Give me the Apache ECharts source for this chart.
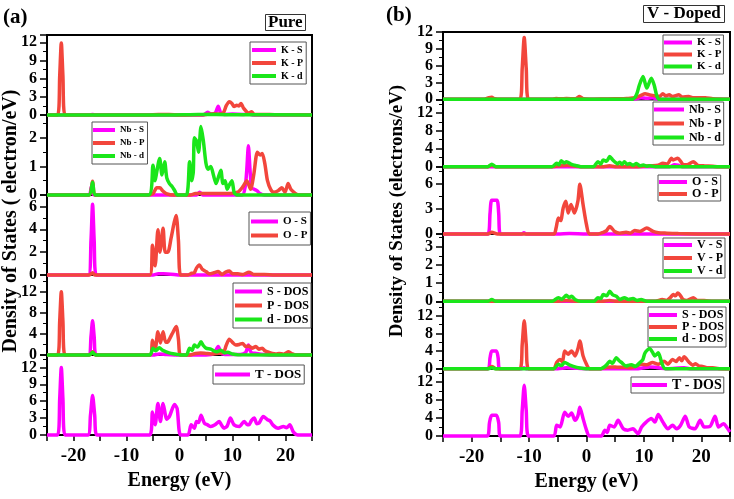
<!DOCTYPE html>
<html>
<head>
<meta charset="utf-8">
<script src="https://cdn.jsdelivr.net/npm/echarts@6/dist/echarts.min.js"></script>
<style>
html,body{margin:0;padding:0;background:#fff}
#main{width:734px;height:499px}
</style>
</head>
<body>
<div id="main"></div>
<script>
// ---- (a) Pure : [energy eV, DOS] ----
var pureKS = [[-25,0],[-17,0],[-16.4,0.1],[-15.8,0],[4.5,0],[5.3,0.45],[6,0.15],[6.8,0.4],[7.3,1.45],[7.8,0.3],[8.5,0.1],[10,0.15],[12,0.1],[13,0.15],[14,0],[25,0]];
var pureKP = [[-25,0],[-23,0],[-22.6,6.5],[-22.3,11.9],[-22,6.5],[-21.6,0],[-6,0],[-4,0.1],[-2,0.1],[0,0],[3,0.05],[5,0.1],[6.5,0.2],[7.5,0.15],[8.3,0.4],[8.8,1.5],[9.4,2.2],[9.9,1.9],[10.3,1.4],[10.8,1.6],[11.2,1.5],[11.6,1.9],[12.1,1.1],[12.5,0.7],[13,0.3],[13.6,0.55],[14.1,0.1],[16,0.1],[18,0.05],[20,0.05],[25,0]];
var pureKd = [[-25,0],[-2,0],[2,0.05],[5,0.08],[9,0.05],[25,0]];

var pureNbS = [[-25,0],[-17.1,0],[-16.6,0.3],[-16.1,0],[3.2,0],[3.8,0.1],[4.4,0],[11.8,0],[12.4,0.3],[12.7,0.9],[13,1.72],[13.3,0.9],[13.6,0.25],[14.1,0.2],[14.6,0.15],[15.2,0.05],[16,0],[25,0]];
var pureNbP = [[-25,0],[-17.1,0],[-16.4,0.48],[-15.8,0],[-6,0],[-5,0.05],[-4.3,0.25],[-3.7,0.25],[-3.2,0.15],[-2.5,0.05],[-1,0],[2,0],[3,0.05],[5,0.05],[7,0.05],[9,0.05],[11,0.1],[12,0.3],[12.7,0.5],[13.4,0.2],[14,0.7],[14.7,1.5],[15.2,1.4],[15.6,1.45],[16.1,1.1],[16.6,0.5],[17.2,0.2],[17.8,0.1],[18.6,0.15],[19.3,0.25],[19.9,0.1],[20.5,0.4],[21,0.2],[21.9,0.05],[22.5,0],[25,0]];
var pureNbd = [[-25,0],[-17.1,0],[-16.4,0.45],[-15.8,0],[-5.8,0],[-5.0,1.04],[-4.6,0.5],[-4.3,0.8],[-3.75,1.28],[-3.3,0.7],[-2.8,1.16],[-2.4,0.6],[-1.9,0.4],[-1.4,0.3],[-0.9,0.15],[-0.4,0],[1.3,0],[1.9,1.16],[2.3,0.5],[2.6,0.8],[2.8,2.0],[3.2,1.9],[3.6,1.5],[4.06,2.4],[4.5,1.9],[5.0,1.1],[5.4,0.9],[5.9,1.0],[6.4,0.7],[6.9,0.4],[7.3,0.6],[7.8,0.87],[8.2,0.4],[8.6,0.5],[9.0,0.2],[9.4,0.35],[9.9,0.5],[10.3,0.1],[10.8,0],[25,0]];

var pureOS = [[-25,0],[-17.2,0],[-16.7,3],[-16.4,6.2],[-16.1,3],[-15.7,0],[-5,0],[-4,0.1],[-3,0.1],[-1,0.05],[0,0],[25,0]];
var pureOP = [[-25,0],[-17,0],[-16.4,0.2],[-16,0],[-5.6,0],[-5.1,2.6],[-4.6,0.8],[-4.07,3.95],[-3.7,2.0],[-3.1,4.1],[-2.7,2.0],[-2.2,2.0],[-1.6,3.2],[-1.0,4.6],[-0.63,5.2],[-0.2,3],[0.2,0],[1.5,0],[2.3,0.15],[2.8,0.2],[3.2,0.6],[3.75,0.88],[4.3,0.5],[5,0.3],[5.7,0.1],[6.5,0.2],[7.3,0.3],[8,0.05],[8.7,0.25],[9.4,0.35],[10,0.1],[11,0.1],[12,0.05],[13.1,0.25],[14,0.05],[16,0.05],[18,0],[25,0]];

var pureS = [[-25,0],[-17.2,0],[-16.7,3.5],[-16.4,6.5],[-16.1,3.5],[-15.7,0],[-5,0],[-3.8,0.2],[-2.5,0.1],[0,0],[5,0],[6.5,0.3],[7.3,1.6],[7.9,0.3],[9,0.1],[11.5,0.1],[12.5,0.5],[13,1.9],[13.5,0.5],[14.5,0.3],[16,0.1],[18,0],[25,0]];
var pureP = [[-25,0],[-23,0],[-22.6,6.5],[-22.3,12],[-22,6.5],[-21.6,0],[-17,0],[-16.4,0.6],[-15.8,0],[-5.6,0],[-5.1,2.8],[-4.6,1.0],[-4.07,4.4],[-3.6,2.3],[-3.1,4.4],[-2.6,2.4],[-2.2,2.5],[-1.4,4.0],[-0.63,5.4],[-0.2,3],[0.2,0],[2,0],[3,0.3],[4,0.4],[5,0.3],[6,0.2],[7,0.3],[8.3,0.5],[8.8,1.8],[9.4,3.0],[10,2.4],[10.6,1.9],[11.3,2.0],[11.9,2.2],[12.5,1.6],[13.1,1.7],[13.7,1.3],[14.4,1.6],[15,1.1],[15.6,1.3],[16.1,0.8],[16.6,0.6],[17.5,0.3],[18.2,0.2],[18.8,0.3],[19.6,0.15],[20.6,0.6],[21.3,0.2],[22,0],[25,0]];
var pured = [[-25,0],[-17,0],[-16.4,0.5],[-15.8,0],[-5.6,0],[-5,1.3],[-4.5,0.8],[-3.8,1.4],[-3.2,0.9],[-2.5,0.6],[-1.6,0.3],[-0.5,0.1],[0.2,0],[1.3,0],[1.9,1.3],[2.4,0.9],[2.8,1.9],[3.4,1.5],[4.06,2.5],[4.5,1.8],[5,1.3],[5.9,1.1],[6.9,0.6],[7.8,0.9],[8.5,0.4],[9.1,0.5],[10,0.2],[11,0.05],[25,0]];

var pureT = [[-25,0],[-23,0],[-22.6,6.5],[-22.3,12],[-22,6.5],[-21.6,0],[-17.3,0],[-16.8,3.5],[-16.4,7.0],[-16.0,3.5],[-15.6,0],[-5.6,0],[-5.1,4.1],[-4.6,1.8],[-4.07,5.6],[-3.6,2.4],[-3.1,5.6],[-2.4,2.8],[-1.9,3.3],[-0.94,5.4],[-0.45,4.7],[0.2,0],[1.6,0],[2.2,1.8],[2.8,1.2],[3.2,2.4],[3.6,2.2],[4.06,3.5],[4.7,2.1],[5.3,1.8],[5.9,1.5],[6.7,1.8],[7.5,2.4],[7.9,1.8],[8.4,1.2],[9.0,1.6],[9.6,3.0],[10.3,1.8],[11.3,1.5],[12.2,2.4],[12.7,1.9],[13.1,1.8],[13.6,2.6],[14.1,3.0],[14.6,2.0],[15,2.1],[15.8,3.3],[16.6,2.7],[17.1,2.5],[17.6,1.8],[18.6,1.2],[19.6,1.5],[20.2,1.3],[20.8,1.8],[21.5,0.5],[22.3,0],[25,0]];

// ---- (b) V - Doped ----
var vKS = [[-25,0],[8,0],[9.5,0.3],[10.5,0.2],[11.5,0.3],[12.5,0],[25,0]];
var vKP = [[-25,0],[-18,0],[-17,0.3],[-16.5,0.35],[-16,0.1],[-15,0],[-11.6,0],[-11.2,5.5],[-10.85,11.0],[-10.5,5.5],[-10.1,0],[-6,0],[-5.3,0.15],[-4.5,0.1],[-3.5,0.15],[-2,0.1],[-1.2,0.5],[-0.6,0.1],[0.5,0],[3,0.05],[5,0.1],[6,0.1],[7,0.15],[8.5,0.3],[9.5,0.7],[10.2,1.0],[11,0.8],[12,0.6],[12.7,0.5],[13.3,1.0],[13.8,0.6],[14.4,0.8],[15,0.5],[16.1,0.8],[16.7,0.4],[17.8,0.5],[18.5,0.3],[19.5,0.3],[20.7,0.3],[22,0.1],[25,0]];
var vKd = [[-25,0],[8,0],[8.7,0.8],[9.2,2.5],[9.85,4.05],[10.5,2.0],[11.3,3.75],[11.8,2.5],[12.2,0.8],[12.6,0],[25,0]];

var vNbS = [[-25,0],[14.5,0],[15.3,0.4],[16,0.3],[16.7,0],[25,0]];
var vNbP = [[-25,0],[-17.2,0],[-16.5,0.3],[-15.8,0],[-6,0],[-4.5,0.2],[-3.3,0.3],[-2,0.1],[-1,0],[3,0],[4,0.2],[5,0],[9,0],[11,0.2],[12.5,0.3],[13.3,0.75],[14.1,0.6],[14.8,1.9],[15.1,1.5],[15.9,1.9],[16.4,1.2],[16.8,0.5],[17.5,0.4],[18.6,1.1],[19.4,0.3],[20.5,0.2],[22,0.1],[23,0],[25,0]];
var vNbd = [[-25,0],[-17.2,0],[-16.5,0.55],[-15.8,0],[-6,0],[-5.2,0.75],[-4.8,0.4],[-4.4,1.3],[-3.9,0.8],[-3.5,1.1],[-2.6,0.5],[-1.7,0.2],[-1,0],[1.2,0],[2.0,1.1],[2.5,0.6],[2.9,1.5],[3.5,1.2],[4.05,2.25],[4.5,1.6],[4.9,1.1],[5.4,0.6],[5.8,1.0],[6.2,0.5],[6.6,1.1],[7.1,0.5],[7.5,0.7],[8.1,0.3],[8.7,0.7],[9.3,0.2],[9.9,0.35],[10.5,0.1],[11,0.2],[12,0],[25,0]];

var vOS = [[-25,0],[-17.2,0],[-16.8,2.5],[-16.5,4.0],[-15.6,4.0],[-15.3,2.5],[-15,0],[-11.3,0],[-10.9,0.15],[-10.5,0],[-5,0],[-3,0.05],[0,0],[25,0]];
var vOP = [[-25,0],[-17.2,0],[-16.5,0.2],[-15.5,0],[-5.7,0],[-5.3,0.7],[-4.9,1.9],[-4.5,1.6],[-4.06,3.1],[-3.6,3.9],[-3.2,2.5],[-2.7,3.5],[-2.1,2.5],[-1.5,3.9],[-1.16,5.9],[-0.6,3.5],[0,1.1],[0.5,0],[2,0],[2.9,0.2],[3.5,0.4],[4.05,0.9],[4.9,0.3],[5.8,0.1],[6.9,0.2],[7.6,0.1],[8.4,0.4],[9.3,0.3],[10.5,0.7],[11.6,0.3],[12.5,0.15],[14,0.1],[16,0.05],[20,0],[25,0]];

var vVS = [[-25,0],[-17,0],[-16.5,0.05],[-16,0],[25,0]];
var vVP = [[-25,0],[-5,0],[-3.5,0.05],[-2,0],[3,0],[4,0.05],[5,0],[12,0],[13.2,0.1],[13.9,0.05],[14.6,0.2],[15.1,0.37],[15.5,0.3],[15.9,0.46],[16.4,0.3],[16.8,0.1],[17.5,0.05],[18.6,0.2],[19.3,0.05],[20.5,0.05],[22,0],[25,0]];
var vVd = [[-25,0],[-17.2,0],[-16.5,0.1],[-15.8,0],[-6,0],[-4.9,0.2],[-4.3,0.12],[-3.5,0.33],[-3,0.2],[-2.6,0.28],[-2,0.1],[-1,0],[1.3,0],[2.0,0.2],[2.5,0.15],[2.9,0.37],[3.5,0.3],[4.05,0.55],[4.6,0.35],[5.2,0.28],[5.8,0.1],[6.6,0.2],[7.3,0.1],[8.1,0.15],[8.8,0.05],[9.5,0.1],[10.5,0],[25,0]];

var vS = [[-25,0],[-17.2,0],[-16.8,2.5],[-16.5,4.0],[-15.7,4.0],[-15.4,2.5],[-15.1,0],[-11.3,0],[-10.9,0.2],[-10.5,0],[-5,0],[-3.5,0.2],[-2,0.1],[0,0],[9,0],[10,0.2],[11,0.4],[12,0.3],[13,0.1],[14,0],[17,0.2],[18,0],[25,0]];
var vP = [[-25,0],[-17.2,0],[-16.5,0.5],[-15.8,0],[-11.6,0],[-11.2,5.5],[-10.85,10.9],[-10.5,5.5],[-10.1,0],[-5.7,0],[-5.2,1.4],[-4.6,2.1],[-4.2,1.5],[-3.8,4.0],[-3.2,3.3],[-2.6,4.0],[-2.0,2.9],[-1.5,4.5],[-1.16,6.3],[-0.6,2.9],[0,1.0],[0.5,0],[2.5,0],[3.5,0.3],[4.5,0.4],[5.5,0.3],[6.5,0.3],[7.5,0.2],[8.5,0.5],[9.6,1.0],[10.5,0.9],[11.5,1.4],[12.5,1.0],[13.5,1.7],[14.2,1.0],[15,2.1],[15.6,1.6],[16.2,2.5],[16.6,1.8],[17.0,2.7],[17.9,1.4],[18.5,0.8],[19.0,1.1],[19.6,0.6],[20.2,0.5],[21,0.2],[22,0.2],[23,0.05],[25,0]];
var vd = [[-25,0],[-17.2,0],[-16.5,0.2],[-15.8,0],[-5.7,0],[-4.9,1.0],[-4.4,0.7],[-3.8,1.4],[-2.9,0.8],[-1.7,0.3],[-0.5,0.05],[0.5,0],[2.5,0],[3.2,0.5],[3.6,1.0],[4.05,1.7],[4.5,1.2],[5.2,2.5],[5.7,1.8],[6.1,1.4],[6.9,0.6],[7.4,0.8],[7.8,0.9],[8.5,0.5],[9.3,1.4],[9.8,2.0],[10.2,3.6],[11.0,4.6],[11.5,3.7],[11.9,2.9],[12.5,3.6],[13.1,1.4],[13.7,0],[25,0]];

var vT = [[-25,0],[-17.3,0],[-16.9,3],[-16.5,4.6],[-15.7,4.6],[-15.3,3],[-15.0,0],[-11.6,0],[-11.2,5.7],[-10.85,11.3],[-10.5,5.7],[-10.1,0],[-5.7,0],[-5.2,2.4],[-4.6,2.0],[-3.8,5.3],[-3.2,4.4],[-2.6,5.1],[-2.0,3.5],[-1.5,4.5],[-1.16,6.4],[-0.6,3.9],[0,1.3],[0.5,0],[2.6,0],[3.2,1.3],[3.6,0.8],[4.05,2.4],[4.8,2.0],[5.5,3.5],[6.4,1.6],[7.2,1.3],[8.1,1.6],[9.0,0.5],[9.6,2.0],[10.4,3.1],[11.3,3.9],[11.9,3.1],[12.5,4.8],[13.3,3.1],[14.2,1.6],[15.0,2.4],[15.7,1.6],[16.4,2.4],[17.2,4.4],[17.9,2.0],[18.9,1.6],[19.8,3.5],[20.5,2.0],[21.5,2.1],[22.4,4.4],[23.0,2.0],[23.9,2.7],[24.4,2.0],[25,0.9]];

var FONT = '"Liberation Serif", "Times New Roman", serif';
var MAG = '#FF00FF', RED = '#F2463C', GRN = '#1AE61A';

//每个子图: 曲线, y轴范围, 图例位置
var panelA = [
    {lines:[['K - S',pureKS,MAG],['K - P',pureKP,RED],['K - d',pureKd,GRN]], max:13.2, step:3,
     lg:{left:250,top:42,fs:10,lh:12,iw:24,gap:1,pad:[2,3,2,2]}},
    {lines:[['Nb - S',pureNbS,MAG],['Nb - P',pureNbP,RED],['Nb - d',pureNbd,GRN]], max:2.8, step:1,
     lg:{left:92,top:122,fs:9,lh:12,iw:22,gap:1,pad:[2,3,2,1]}},
    {lines:[['O - S',pureOS,MAG],['O - P',pureOP,RED]], max:7, step:2,
     lg:{left:249,top:212,fs:11,lh:13,iw:27,gap:1,pad:[3,3,3,2]}},
    {lines:[['S - DOS',pureS,MAG],['P - DOS',pureP,RED],['d - DOS',pured,GRN]], max:15.2, step:4,
     lg:{left:233,top:283,fs:12,lh:13,iw:27,gap:1,pad:[2,2,2,2]}},
    {lines:[['T - DOS',pureT,MAG]], max:14.2, step:3,
     lg:{left:213,top:365,fs:13,lh:15,iw:35,gap:1,pad:[2,3,2,2]}}
];
var panelB = [
    {lines:[['K - S',vKS,MAG],['K - P',vKP,RED],['K - d',vKd,GRN]], max:12, step:3,
     lg:{left:663,top:35,fs:11,lh:11,iw:28,gap:1,pad:[2,2,2,1]}},
    {lines:[['Nb - S',vNbS,MAG],['Nb - P',vNbP,RED],['Nb - d',vNbd,GRN]], max:15, step:4,
     lg:{left:653,top:102,fs:12,lh:13,iw:30,gap:1,pad:[1,2,1,1]}},
    {lines:[['O - S',vOS,MAG],['O - P',vOP,RED]], max:8, step:3,
     lg:{left:658,top:175,fs:12,lh:11,iw:28,gap:0,pad:[1,2,1,1]}},
    {lines:[['V - S',vVS,MAG],['V - P',vVP,RED],['V - d',vVd,GRN]], max:3.7, step:1,
     lg:{left:663,top:238,fs:12,lh:12,iw:28,gap:1,pad:[1,2,1,1]}},
    {lines:[['S - DOS',vS,MAG],['P - DOS',vP,RED],['d - DOS',vd,GRN]], max:15.3, step:4,
     lg:{left:648,top:307,fs:12,lh:12,iw:28,gap:0,pad:[2,2,2,1]}},
    {lines:[['T - DOS',vT,MAG]], max:15, step:4,
     lg:{left:631,top:377,fs:14,lh:14,iw:35,gap:0,pad:[1,2,1,1]}}
];

var option = {
    animation:false,
    backgroundColor:'#fff',
    grid:[], xAxis:[], yAxis:[], series:[], legend:[],
    title:[
        {text:'(a)', left:3, top:7, padding:0, textStyle:{fontFamily:FONT,fontWeight:'bold',fontSize:21,color:'#000'}},
        {text:'Pure', left:265, top:14, padding:[0,3,0,3], borderColor:'#333', borderWidth:1,
         textStyle:{fontFamily:FONT,fontWeight:'bold',fontSize:17,color:'#000',lineHeight:17}},
        {text:'(b)', left:386, top:5, padding:0, textStyle:{fontFamily:FONT,fontWeight:'bold',fontSize:21,color:'#000'}},
        {text:'V - Doped', left:643, top:5, padding:[0,4,0,4], borderColor:'#333', borderWidth:1,
         textStyle:{fontFamily:FONT,fontWeight:'bold',fontSize:17,color:'#000',lineHeight:18}}
    ],
    graphic:[
        {type:'text', x:11, y:221, rotation:Math.PI/2,
         style:{text:'Density of States ( electron/eV)', font:'bold 20px ' + FONT, fill:'#000', align:'center', verticalAlign:'middle'}},
        {type:'text', x:397, y:211, rotation:Math.PI/2,
         style:{text:'Density of States (electrons/eV)', font:'bold 19px ' + FONT, fill:'#000', align:'center', verticalAlign:'middle'}}
    ]
};

function addPanel(subs, left, width, top, h){
    for(var i=0;i<subs.length;i++){
        var s = subs[i];
        var gi = option.grid.length;
        var last = (i==subs.length-1);
        var step = s.step;
        option.grid.push({left:left, top:top+h*i, width:width, height:h, show:true,
            borderColor:'#000', borderWidth:2, backgroundColor:'transparent'});
        option.xAxis.push({
            gridIndex:gi, type:'value', min:-25, max:25, interval:5, position:'bottom',
            axisLine:{show:last, onZero:false, lineStyle:{color:'#000',width:2}},
            axisTick:{show:last, length:6, lineStyle:{color:'#000',width:1.5}},
            axisLabel:{show:last, margin:12, color:'#000', fontFamily:FONT, fontWeight:'bold', fontSize:19,
                formatter:function(v){ return v%10===0 ? String(v) : ''; }},
            splitLine:{show:false},
            name:last ? 'Energy (eV)' : '', nameLocation:'middle', nameGap:36,
            nameTextStyle:{fontFamily:FONT, fontWeight:'bold', fontSize:20, color:'#000'}
        });
        option.yAxis.push({
            gridIndex:gi, type:'value', min:0, max:s.max, interval:step, position:'left',
            axisLine:{show:true, onZero:false, lineStyle:{color:'#000',width:2}},
            axisTick:{show:true, length:7, lineStyle:{color:'#000',width:1.5}},
            minorTick:{show:true, splitNumber:2, length:4, lineStyle:{color:'#000',width:1}},
            axisLabel:{margin:10, color:'#000', fontFamily:FONT, fontWeight:'bold', fontSize:16,
                formatter:(function(st){ return function(v){ return v%st===0 ? String(v) : ''; }; })(step)},
            splitLine:{show:false}
        });
        var names = [];
        for(var j=0;j<s.lines.length;j++){
            var ln = s.lines[j];
            names.push(ln[0]);
            option.series.push({
                type:'line', name:ln[0], data:ln[1], xAxisIndex:gi, yAxisIndex:gi,
                symbol:'none', smooth:0.25, clip:false, z:2+j,
                lineStyle:{width:3.5, color:ln[2]}, itemStyle:{color:ln[2]}
            });
        }
        var lg = s.lg;
        option.legend.push({
            data:names, left:lg.left, top:lg.top, orient:'vertical', selectedMode:false,
            icon:'rect', itemWidth:lg.iw, itemHeight:4, itemGap:lg.gap, padding:lg.pad,
            borderColor:'#555', borderWidth:1, backgroundColor:'#fff',
            textStyle:{fontFamily:FONT, fontWeight:'bold', fontSize:lg.fs, lineHeight:lg.lh, color:'#000'}
        });
    }
}

addPanel(panelA, 47, 265, 35, 80);
addPanel(panelB, 443, 287, 32, 67.33);

var myChart = echarts.init(document.getElementById('main'));
myChart.setOption(option);
</script>
</body>
</html>
